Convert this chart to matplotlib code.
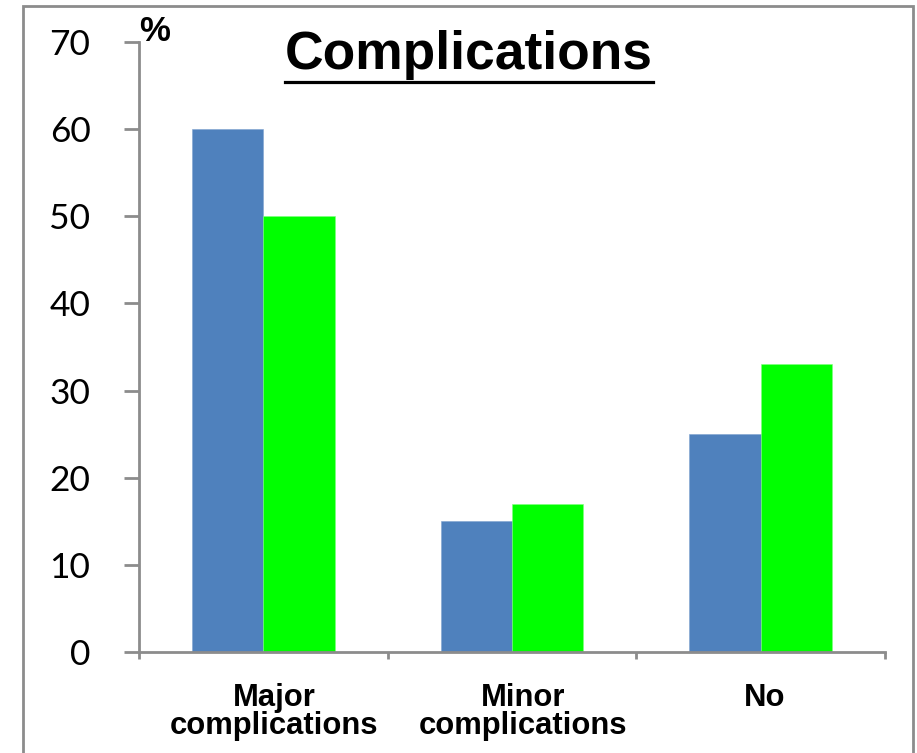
import matplotlib
matplotlib.use("Agg")
import matplotlib.pyplot as plt
from matplotlib.patches import Rectangle
from matplotlib.lines import Line2D
from matplotlib.transforms import blended_transform_factory, ScaledTranslation
import numpy as np

# Data
categories = ["Major\ncomplications", "Minor\ncomplications", "No"]
series_a = [60, 15, 25]
series_b = [50, 17, 33]
y_ticks = [0, 10, 20, 30, 40, 50, 60, 70]

W, H, DPI = 917, 753, 100
fig = plt.figure(figsize=(W / DPI, H / DPI), dpi=DPI)

left, right, bottom, top = 139, 885, 652, 42
ax = fig.add_axes([left / W, 1 - bottom / H, (right - left) / W, (bottom - top) / H])

x = np.arange(len(categories))
bw = 0.2875
ax.bar(x - bw / 2, series_a, width=bw, color="#4F81BD", edgecolor="#7fa3d0", linewidth=0.4, zorder=2)
ax.bar(x + bw / 2, series_b, width=bw, color="#00FF00", edgecolor="#7fff7f", linewidth=0.4, zorder=2)

ax.set_xlim(-0.5, len(categories) - 0.5)
ax.set_ylim(0, 70)

axis_grey = "#8c8c8c"
for s in ["top", "right"]:
    ax.spines[s].set_visible(False)
for s in ["left", "bottom"]:
    ax.spines[s].set_color(axis_grey)
    ax.spines[s].set_linewidth(2)

ax.set_yticks(y_ticks)
ax.set_yticklabels([str(v) for v in y_ticks], fontfamily="Lato", fontsize=25.5)
ax.tick_params(axis="y", length=11, width=2, color=axis_grey, pad=24)

# Category boundaries carry the tick marks
ax.set_xticks(np.arange(-0.5, len(categories), 1.0))
ax.set_xticklabels([])
ax.tick_params(axis="x", which="major", length=5, width=2, color=axis_grey)

# Category labels as small text boxes under each group
trans = blended_transform_factory(ax.transData, fig.transFigure)
for xi, label in zip(x, categories):
    shift = 11 if "\n" in label else 4
    off = ScaledTranslation(shift / DPI, 0, fig.dpi_scale_trans)
    fig.text(xi, 1 - 683 / H, label, transform=trans + off,
             ha="center", va="top", multialignment="center",
             fontfamily="Liberation Sans", fontweight="bold",
             fontsize=22.3, linespacing=0.93)

# Title with underline
title = fig.text(468.5 / W, 1 - 69 / H, "Complications", ha="center", va="baseline",
                 fontfamily="Liberation Sans", fontweight="bold", fontsize=38.4)
fig.canvas.draw()
bb = title.get_window_extent()
uy = 1 - 82 / H
fig.add_artist(Line2D([bb.x0 / W, bb.x1 / W], [uy, uy], transform=fig.transFigure,
                      color="black", linewidth=2.3))

# Axis unit
fig.text(139 / W, 1 - 41 / H, "%", ha="left", va="baseline",
         fontfamily="Liberation Sans", fontweight="bold", fontsize=25)

# Frame around the chart area
fig.add_artist(Rectangle((23 / W, -0.05), (913 - 23) / W, 1.05 - 6 / H,
                         transform=fig.transFigure, fill=False,
                         edgecolor=axis_grey, linewidth=2))

fig.savefig("out.png", dpi=DPI)
